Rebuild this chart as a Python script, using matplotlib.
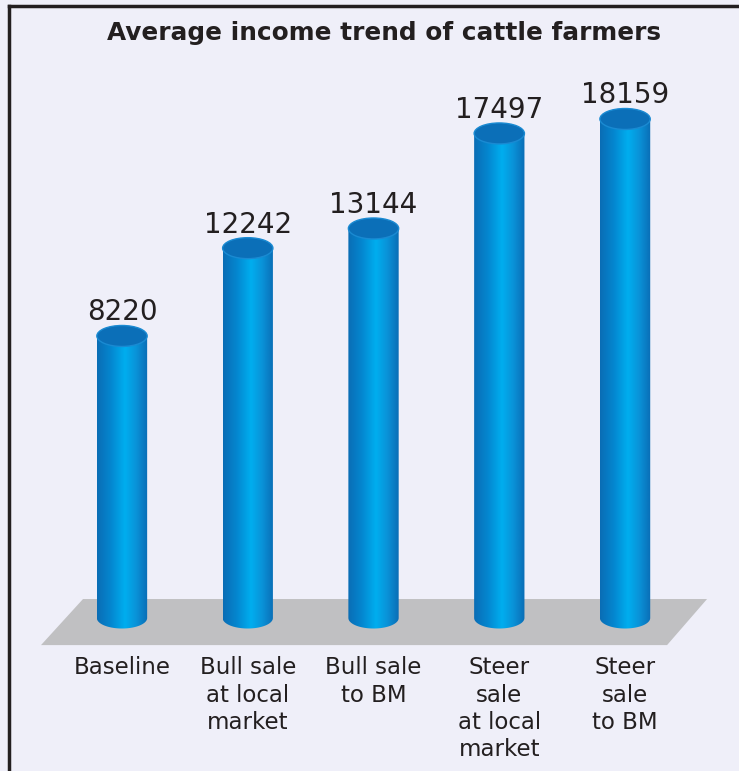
import numpy as np
import matplotlib.pyplot as plt
from matplotlib.patches import Ellipse, Polygon
from matplotlib.path import Path
from matplotlib.colors import LinearSegmentedColormap

# data
categories = ['Baseline', 'Bull sale\nat local\nmarket', 'Bull sale\nto BM',
              'Steer\nsale\nat local\nmarket', 'Steer\nsale\nto BM']
values = [8220, 12242, 13144, 17497, 18159]

title = 'Average income trend of cattle farmers'

bg = '#efeff9'
ink = '#231f20'
base = -4700          # floor level of the pseudo-3D chart
half_w = 0.2          # half width of a cylinder (category units)
ell_h = 960           # ellipse height (value units)

fig = plt.figure(figsize=(7.39, 7.71), dpi=100)
fig.patch.set_facecolor(bg)
ax = fig.add_axes([0, 0, 1, 1])
ax.set_facecolor(bg)
ax.set_xlim(-0.970, 4.906)
ax.set_ylim(-11707, 23609)
ax.axis('off')

# grey floor
floor = Polygon([(-0.644, base - 1240), (-0.310, base + 870),
                 (4.652, base + 870), (4.334, base - 1240)],
                closed=True, facecolor='#c0c0c2', edgecolor='none', zorder=1)
ax.add_patch(floor)

cmap = LinearSegmentedColormap.from_list(
    'cyl', ['#0a6db5', '#0487d0', '#00aeef', '#0a92d8', '#0a6db5'])
grad = np.linspace(0, 1, 256).reshape(1, -1)
grad = np.interp(grad, [0, 0.55, 1], [0, 0.5, 1])

for i, v in enumerate(values):
    x0, x1 = i - half_w, i + half_w
    # side outline with rounded bottom
    t = np.linspace(np.pi, 2 * np.pi, 40)
    arc = np.column_stack([i + half_w * np.cos(t), base + ell_h / 2 * np.sin(t)])
    verts = np.vstack([[x0, v], arc, [x1, v], [x0, v]])
    path = Path(verts)
    im = ax.imshow(grad, cmap=cmap, aspect='auto', zorder=2,
                   extent=[x0, x1, base - ell_h, v], interpolation='bicubic')
    im.set_clip_path(path, transform=ax.transData)
    # top cap
    ax.add_patch(Ellipse((i, v), 2 * half_w, ell_h, facecolor='#0b6fb8',
                         edgecolor='#1a8ad2', linewidth=1, zorder=3))
    ax.text(i, v + ell_h / 2 + 230, str(v), ha='center', va='baseline',
            fontsize=20, color=ink, zorder=4)
    ax.text(i, base - 1750, categories[i], ha='center', va='top',
            fontsize=16.5, color=ink, linespacing=1.24, zorder=4)

fig.text(0.519, 0.957, title, ha='center', va='center',
         fontsize=17.8, fontweight='bold', color=ink)

# frame lines on top and left
fig.add_artist(plt.Line2D([9 / 739, 1], [1 - 6 / 771, 1 - 6 / 771],
                          transform=fig.transFigure, color=ink, linewidth=2.5))
fig.add_artist(plt.Line2D([9 / 739, 9 / 739], [0, 1 - 6 / 771],
                          transform=fig.transFigure, color=ink, linewidth=2.5))

fig.savefig('out.png', dpi=100, facecolor=bg)
